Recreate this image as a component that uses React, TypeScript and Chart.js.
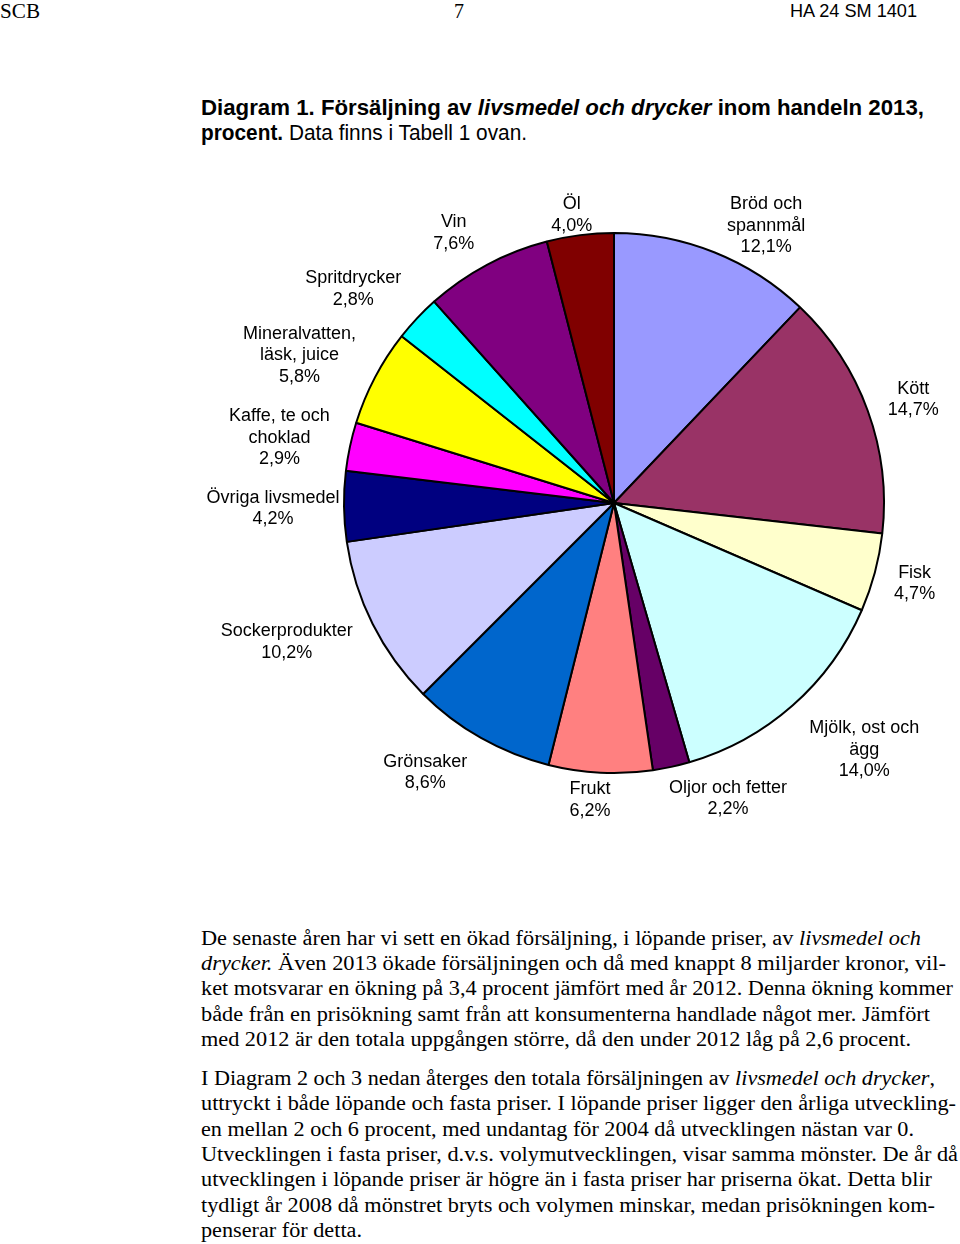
import React, { useEffect, useLayoutEffect, useRef } from "react";
import { Chart, registerables } from "chart.js";

Chart.register(...registerables);

// ---- Data ----
const categories = [
  "Bröd och\nspannmål",
  "Kött",
  "Fisk",
  "Mjölk, ost och\nägg",
  "Oljor och fetter",
  "Frukt",
  "Grönsaker",
  "Sockerprodukter",
  "Övriga livsmedel",
  "Kaffe, te och\nchoklad",
  "Mineralvatten,\nläsk, juice",
  "Spritdrycker",
  "Vin",
  "Öl",
];
const shares = [12.1, 14.7, 4.7, 14.0, 2.2, 6.2, 8.6, 10.2, 4.2, 2.9, 5.8, 2.8, 7.6, 4.0];
const sliceColors = [
  "#9999FF", "#993366", "#FFFFCC", "#CCFFFF", "#660066", "#FF8080", "#0066CC",
  "#CCCCFF", "#000080", "#FF00FF", "#FFFF00", "#00FFFF", "#800080", "#800000",
];
// label placement (distance from centre, angular shift in degrees)
const labelDistance = [317, 317, 311, 351, 316, 297, 328, 355, 341, 341, 348, 338, 315, 292];
const labelAngleShift = [6.9, 0.7, -0.1, -4.1, -8.9, 1.75, 5.6, 3.8, 0, -0.9, -2.4, -3.7, -2.5, -1.1];

const pct = (v: number) => v.toFixed(1).replace(".", ",") + "%";

const paragraph1 = [
  [{ t: "De senaste åren har vi sett en ökad försäljning, i löpande priser, av " }, { t: "livsmedel och", i: true }],
  [{ t: "drycker.", i: true }, { t: " Även 2013 ökade försäljningen och då med knappt 8 miljarder kronor, vil-" }],
  [{ t: "ket motsvarar en ökning på 3,4 procent jämfört med år 2012. Denna ökning kommer" }],
  [{ t: "både från en prisökning samt från att konsumenterna handlade något mer. Jämfört" }],
  [{ t: "med 2012 är den totala uppgången större, då den under 2012 låg på 2,6 procent." }],
];
const paragraph1Widths = [720, 745, 752, 729, 710];
const paragraph2 = [
  [{ t: "I Diagram 2 och 3 nedan återges den totala försäljningen av " }, { t: "livsmedel och drycker", i: true }, { t: "," }],
  [{ t: "uttryckt i både löpande och fasta priser. I löpande priser ligger den årliga utveckling-" }],
  [{ t: "en mellan 2 och 6 procent, med undantag för 2004 då utvecklingen nästan var 0." }],
  [{ t: "Utvecklingen i fasta priser, d.v.s. volymutvecklingen, visar samma mönster. De år då" }],
  [{ t: "utvecklingen i löpande priser är högre än i fasta priser har priserna ökat. Detta blir" }],
  [{ t: "tydligt år 2008 då mönstret bryts och volymen minskar, medan prisökningen kom-" }],
  [{ t: "penserar för detta." }],
];
const paragraph2Widths = [734, 755, 713, 757, 731, 734, 161];

const labelPlugin = {
  id: "sliceLabels",
  afterDatasetsDraw(chart: any) {
    const meta = chart.getDatasetMeta(0);
    const ctx = chart.ctx;
    ctx.save();
    ctx.font = '18px "Liberation Sans", Arial, sans-serif';
    ctx.fillStyle = "#000";
    ctx.textAlign = "center";
    ctx.textBaseline = "middle";
    meta.data.forEach((arc: any, i: number) => {
      const { x, y, startAngle, endAngle } = arc.getProps(["x", "y", "startAngle", "endAngle"], true);
      const a = (startAngle + endAngle) / 2 + (labelAngleShift[i] * Math.PI) / 180;
      const cx = x + Math.cos(a) * labelDistance[i];
      const cy = y + Math.sin(a) * labelDistance[i];
      const lines = [...categories[i].split("\n"), pct(shares[i])];
      const lh = 21.5;
      lines.forEach((t, k) => ctx.fillText(t, cx, cy + (k - (lines.length - 1) / 2) * lh + 1));
    });
    ctx.restore();
  },
};

function PieChart() {
  const ref = useRef<HTMLCanvasElement>(null);
  useEffect(() => {
    if (!ref.current) return;
    const chart = new Chart(ref.current, {
      type: "pie",
      data: {
        labels: categories,
        datasets: [
          {
            data: shares,
            backgroundColor: sliceColors,
            borderColor: "#000",
            borderWidth: 2,
            radius: 270,
          } as any,
        ],
      },
      options: {
        responsive: false,
        animation: false,
        devicePixelRatio: 1,
        layout: { padding: { left: 268, right: 0, top: 0, bottom: 34 } },
        plugins: { legend: { display: false }, tooltip: { enabled: false } },
        events: [],
      } as any,
      plugins: [labelPlugin],
    });
    return () => chart.destroy();
  }, []);
  return (
    <canvas
      ref={ref}
      width={960}
      height={680}
      style={{ position: "absolute", left: 0, top: 180, width: 960, height: 680 }}
    />
  );
}

const serif = '"Liberation Serif", "Times New Roman", serif';
const sans = '"Liberation Sans", Arial, sans-serif';

function Fit({ left, top, w, style, children }: any) {
  return (
    <div
      data-fit={w}
      style={{
        position: "absolute",
        left,
        top,
        whiteSpace: "nowrap",
        transformOrigin: "0 0",
        lineHeight: 1,
        ...style,
      }}
    >
      {children}
    </div>
  );
}

export default function App() {
  useLayoutEffect(() => {
    const apply = () => {
      document.querySelectorAll<HTMLElement>("[data-fit]").forEach((el) => {
        const target = parseFloat(el.dataset.fit || "0");
        el.style.transform = "none";
        const w = el.getBoundingClientRect().width;
        if (w > 0) el.style.transform = `scaleX(${target / w})`;
      });
    };
    apply();
    (document as any).fonts?.ready?.then(apply);
  }, []);

  const renderLine = (segs: any[]) =>
    segs.map((s, k) => (
      <span key={k} style={{ fontStyle: s.i ? "italic" : "normal" }}>
        {s.t}
      </span>
    ));

  return (
    <div style={{ position: "absolute", left: 0, top: 0, width: 960, height: 1244, background: "#fff", color: "#000" }}>
      <Fit left={0} top={1} w={40} style={{ fontFamily: serif, fontSize: 21 }}>SCB</Fit>
      <Fit left={454} top={1} w={10} style={{ fontFamily: serif, fontSize: 21 }}>7</Fit>
      <Fit left={790} top={1} w={127} style={{ fontFamily: sans, fontSize: 19 }}>HA 24 SM 1401</Fit>

      <Fit left={201} top={97} w={723} style={{ fontFamily: sans, fontSize: 22, fontWeight: "bold" }}>
        Diagram 1. Försäljning av <span style={{ fontStyle: "italic" }}>livsmedel och drycker</span> inom handeln 2013,
      </Fit>
      <Fit left={201} top={122} w={326} style={{ fontFamily: sans, fontSize: 22 }}>
        <span style={{ fontWeight: "bold" }}>procent.</span> Data finns i Tabell 1 ovan.
      </Fit>

      <PieChart />

      {paragraph1.map((segs, i) => (
        <Fit key={"p1" + i} left={201} top={928 + i * 25.2} w={paragraph1Widths[i]} style={{ fontFamily: serif, fontSize: 20.5 }}>
          {renderLine(segs)}
        </Fit>
      ))}
      {paragraph2.map((segs, i) => (
        <Fit key={"p2" + i} left={201} top={1068 + i * 25.3} w={paragraph2Widths[i]} style={{ fontFamily: serif, fontSize: 20.5 }}>
          {renderLine(segs)}
        </Fit>
      ))}
    </div>
  );
}
